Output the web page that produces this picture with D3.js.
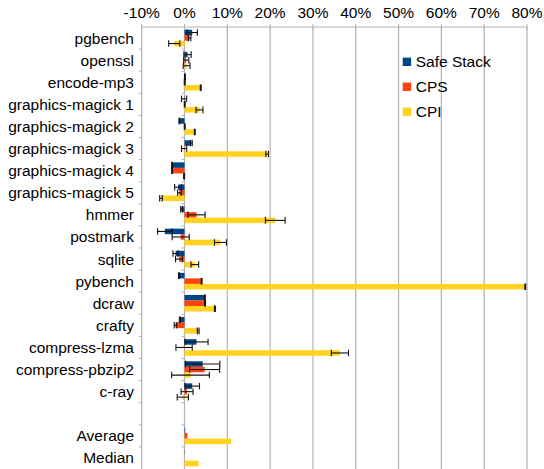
<!DOCTYPE html>
<html>
<head>
<meta charset="utf-8">
<script src="https://cdn.jsdelivr.net/npm/d3@7"></script>
<style>
  body { margin: 0; background: #fff; }
  svg { display: block; font-family: "Liberation Sans", Arial, sans-serif; }
</style>
</head>
<body>
<svg id="chart" width="544" height="469"></svg>
<script>
// categories, top to bottom (blank row separates the summary rows)
const categories = [
  "pgbench", "openssl", "encode-mp3", "graphics-magick 1", "graphics-magick 2",
  "graphics-magick 3", "graphics-magick 4", "graphics-magick 5", "hmmer",
  "postmark", "sqlite", "pybench", "dcraw", "crafty", "compress-lzma",
  "compress-pbzip2", "c-ray", "", "Average", "Median"
];
const seriesNames = ["Safe Stack", "CPS", "CPI"];
const seriesColors = ["#004586", "#ff420e", "#ffd320"];

// overhead in percent, with error (+/-)
const safeStack = [1.8, 0.7, 0.1, -0.1, -1.2, 1.6, -2.9, -1.5, -0.7, -4.6, -2.1, -1.3, 4.75, -1.1, 2.8, 4.25, 1.8, null, 0.15, -0.05];
const safeStackErr = [1.2, 0.85, 0.1, 0.6, 0.1, 0.2, 0.1, 0.8, 0.2, 1.7, 0.6, 0.1, 0.1, 0.1, 2.7, 4.0, 1.7, null, null, null];
const cps = [1.2, 0.4, 0.05, 0.05, 0.05, -0.1, -2.9, -1.2, 2.8, -0.9, -1.3, 4.0, 4.8, -2.1, -0.1, 4.7, 0.6, null, 0.7, 0];
const cpsErr = [0.3, 0.6, 0.1, 0.1, 0.1, 0.6, 0.1, 0.4, 2.0, 2.0, 0.8, 0.1, 0.1, 0.3, 1.9, 3.5, 1.4, null, null, null];
const cpi = [-2.4, 0.5, 3.8, 3.5, 2.4, 19.3, -0.1, -5.5, 21.2, 8.4, 2.4, 79.6, 7.1, 3.2, 36.3, 1.4, -0.4, null, 10.9, 3.3];
const cpiErr = [1.3, 0.8, 0.1, 0.8, 0.1, 0.3, 0.1, 0.3, 2.3, 1.4, 0.9, 0.1, 0.1, 0.2, 2.0, 4.4, 1.3, null, null, null];

const xTicks = [-10, 0, 10, 20, 30, 40, 50, 60, 70, 80];

const values = [safeStack, cps, cpi];
const errors = [safeStackErr, cpsErr, cpiErr];

const svg = d3.select("#chart");
const plotTop = 27, plotBottom = 469;

const x = d3.scaleLinear().domain([-10, 80]).range([141.7, 527]);
const y = d3.scaleBand().domain(categories).range([plotTop, plotBottom]);
const ySub = d3.scaleBand()
  .domain(seriesNames)
  .range([0, y.bandwidth()])
  .paddingOuter(0.5);

// flatten into one record per bar
const bars = [];
categories.forEach((c, i) => {
  seriesNames.forEach((s, j) => {
    if (values[j][i] == null) return;
    bars.push({ cat: c, series: s, color: seriesColors[j], v: values[j][i], e: errors[j][i] });
  });
});

// vertical grid lines
svg.append("g")
  .selectAll("line")
  .data(xTicks)
  .join("line")
  .attr("x1", (d) => x(d))
  .attr("x2", (d) => x(d))
  .attr("y1", plotTop)
  .attr("y2", plotBottom)
  .attr("stroke", "#b3b3b3")
  .attr("stroke-width", 1.2);

// top axis line, ticks and labels
const axisG = svg.append("g");
axisG.append("line")
  .attr("x1", x(-10)).attr("x2", x(80))
  .attr("y1", plotTop).attr("y2", plotTop)
  .attr("stroke", "#b3b3b3");
axisG.selectAll(".tick")
  .data(xTicks)
  .join("line")
  .attr("x1", (d) => x(d)).attr("x2", (d) => x(d))
  .attr("y1", plotTop - 3).attr("y2", plotTop + 3)
  .attr("stroke", "#b3b3b3");
axisG.selectAll("text")
  .data(xTicks)
  .join("text")
  .attr("x", (d) => x(d))
  .attr("y", 17.5)
  .attr("text-anchor", "middle")
  .attr("font-size", 15.5)
  .text((d) => d + "%");

// small ticks at category boundaries on the -10% and 0% lines
const bounds = categories.map((c) => y(c) + y.bandwidth()).slice(0, -1);
[-10, 0].forEach((v) => {
  svg.append("g")
    .selectAll("line")
    .data(bounds)
    .join("line")
    .attr("x1", x(v) - 3).attr("x2", x(v))
    .attr("y1", (d) => d).attr("y2", (d) => d)
    .attr("stroke", "#b3b3b3");
});

// category labels
svg.append("g")
  .selectAll("text")
  .data(categories)
  .join("text")
  .attr("x", 134)
  .attr("y", (d) => y(d) + y.bandwidth() / 2 + 5.5)
  .attr("text-anchor", "end")
  .attr("font-size", 15.5)
  .text((d) => d);

// bars
svg.append("g")
  .selectAll("rect")
  .data(bars)
  .join("rect")
  .attr("x", (d) => x(Math.min(0, d.v)))
  .attr("width", (d) => Math.abs(x(d.v) - x(0)))
  .attr("y", (d) => y(d.cat) + ySub(d.series))
  .attr("height", ySub.bandwidth())
  .attr("fill", (d) => d.color);

// error bars
const errG = svg.append("g")
  .selectAll("g")
  .data(bars.filter((d) => d.e != null))
  .join("g")
  .attr("stroke", "#111")
  .attr("stroke-width", 1.1);
const cy = (d) => y(d.cat) + ySub(d.series) + ySub.bandwidth() / 2;
const capH = ySub.bandwidth() / 2 + 0.5;
errG.append("line")
  .attr("x1", (d) => x(d.v - d.e)).attr("x2", (d) => x(d.v + d.e))
  .attr("y1", cy).attr("y2", cy);
errG.append("line")
  .attr("x1", (d) => x(d.v - d.e)).attr("x2", (d) => x(d.v - d.e))
  .attr("y1", (d) => cy(d) - capH).attr("y2", (d) => cy(d) + capH);
errG.append("line")
  .attr("x1", (d) => x(d.v + d.e)).attr("x2", (d) => x(d.v + d.e))
  .attr("y1", (d) => cy(d) - capH).attr("y2", (d) => cy(d) + capH);

// legend
const legend = svg.append("g")
  .selectAll("g")
  .data(seriesNames)
  .join("g")
  .attr("transform", (_, i) => `translate(402.7, ${61.8 + i * 25})`);
legend.append("rect")
  .attr("x", 0).attr("y", -4.2)
  .attr("width", 8.4).attr("height", 8.4)
  .attr("fill", (_, i) => seriesColors[i]);
legend.append("text")
  .attr("x", 13)
  .attr("y", 5.2)
  .attr("font-size", 15.5)
  .text((d) => d);
</script>
</body>
</html>
